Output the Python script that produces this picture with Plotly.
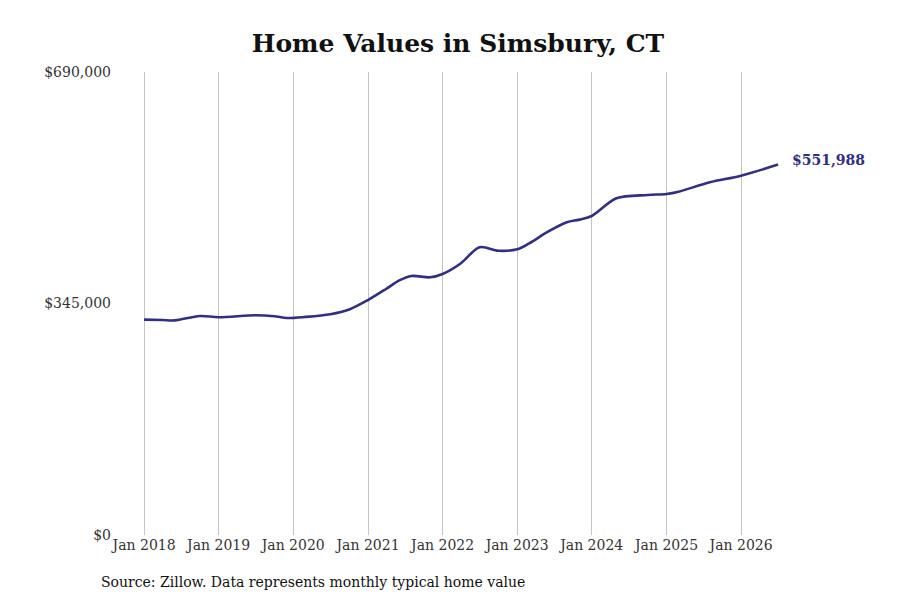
import plotly.graph_objects as go

# typical home value readings
dates = [
    '2018-01-01', '2018-04-01', '2018-06-01', '2018-10-01', '2019-01-01',
    '2019-07-01', '2019-10-01', '2019-12-01', '2020-03-01', '2020-07-01',
    '2020-10-01', '2021-01-01', '2021-04-01', '2021-06-01', '2021-08-01',
    '2021-11-01', '2022-01-01', '2022-04-01', '2022-07-01', '2022-10-01',
    '2023-01-01', '2023-03-01', '2023-06-01', '2023-09-01', '2023-11-01',
    '2024-01-01', '2024-05-01', '2024-10-01', '2025-01-01', '2025-03-01',
    '2025-08-01', '2026-01-01', '2026-07-01',
]
values = [
    320900, 320300, 319800, 326400, 324600,
    327400, 326000, 323400, 325000, 329000,
    336000, 350200, 367000, 379000, 386000,
    384000, 389000, 405000, 428800, 423700,
    425800, 434700, 452000, 466000, 470000,
    475400, 501800, 506700, 508200, 511600,
    525600, 535500, 551988,
]
tick_dates = ['%d-01-01' % y for y in range(2018, 2027)]
tick_text = ['Jan %d' % y for y in range(2018, 2027)]
y_ticks = [0, 345000, 690000]
y_text = ['$0', '$345,000', '$690,000']

LINE = '#312e86'
FONT = 'DejaVu Serif'

# plot area on screen (page has an 8px body margin)
PL, PT, PW, PH = 112, 72, 748, 463

fig = go.Figure()
fig.add_trace(go.Scatter(
    x=dates, y=values,
    mode='lines',
    line=dict(color=LINE, width=2.6, shape='spline', smoothing=0.9),
    hoverinfo='skip',
    showlegend=False,
))

# end label
fig.add_annotation(
    x=dates[-1], y=values[-1],
    text='<b>$%s</b>' % format(values[-1], ','),
    showarrow=False, xanchor='left', yanchor='middle', xshift=12, yshift=5,
    font=dict(family=FONT, size=14, color=LINE),
)

fig.add_annotation(
    x=(99 - PL) / PW, y=(PT + PH - 582) / PH, xref='paper', yref='paper',
    text='Source: Zillow. Data represents monthly typical home value',
    showarrow=False, xanchor='left', yanchor='middle',
    font=dict(family=FONT, size=14, color='#111'),
)

fig.update_layout(
    width=900, height=600,
    margin=dict(l=PL - 8, r=900 - (PL - 8) - PW, t=PT - 8, b=600 - (PT - 8) - PH),
    paper_bgcolor='white', plot_bgcolor='white',
    font=dict(family=FONT, size=14, color='#333'),
    title=dict(text='<b>Home Values in Simsbury, CT</b>', x=0.5, xanchor='center',
               y=1 - 35 / 600, yanchor='middle',
               font=dict(family=FONT, size=25, color='#111')),
)

fig.update_xaxes(
    range=['2017-07-28', '2027-08-06'],
    tickvals=tick_dates, ticktext=tick_text,
    showgrid=True, gridcolor='#c4c4c4', gridwidth=1,
    zeroline=False, showline=False, ticks='',
    tickfont=dict(family=FONT, size=14, color='#333'),
)
fig.update_yaxes(
    range=[0, 690000],
    tickvals=y_ticks, ticktext=y_text,
    showgrid=False, zeroline=False, showline=False, ticks='',
    tickfont=dict(family=FONT, size=14, color='#333'),
)

fig.write_html('out.html')
